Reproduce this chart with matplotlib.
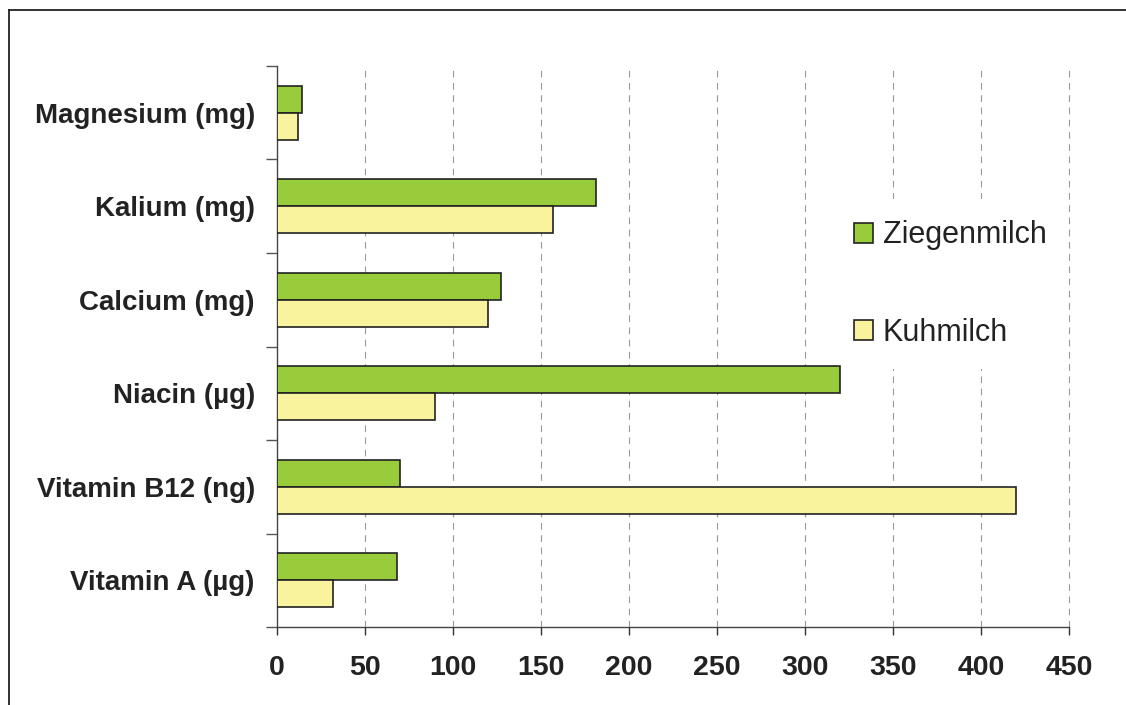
import matplotlib.pyplot as plt
from matplotlib.lines import Line2D
from matplotlib.ticker import FixedLocator
import numpy as np

# Naehrstoffgehalt je 100 g, von unten nach oben
categories = ["Vitamin A (µg)", "Vitamin B12 (ng)", "Niacin (µg)",
              "Calcium (mg)", "Kalium (mg)", "Magnesium (mg)"]
ziegenmilch = [68, 70, 320, 127, 181, 14]
kuhmilch = [32, 420, 90, 120, 157, 12]
x_ticks = [0, 50, 100, 150, 200, 250, 300, 350, 400, 450]

plt.rcParams['font.family'] = ['Liberation Sans', 'DejaVu Sans']

fig = plt.figure(figsize=(11.26, 7.05), dpi=100)
ax = fig.add_axes([277 / 1126, 1 - 627 / 705, 792 / 1126, 561 / 705])

y = np.arange(len(categories))
bar_h = 0.29
ax.barh(y + bar_h / 2, ziegenmilch, height=bar_h, color='#99CC3A',
        edgecolor='#222222', linewidth=1.2, label='Ziegenmilch', zorder=3)
ax.barh(y - bar_h / 2, kuhmilch, height=bar_h, color='#F9F39E',
        edgecolor='#222222', linewidth=1.2, label='Kuhmilch', zorder=3)

ax.set_xlim(0, 450)
ax.set_ylim(-0.5, len(categories) - 0.5)

# x axis
ax.set_xticks(x_ticks)
ax.tick_params(axis='x', direction='out', length=6, width=1, color='#333333',
               pad=14, labelsize=20.5)
for lbl in ax.get_xticklabels():
    lbl.set_fontweight('bold')
    lbl.set_color('#222222')

# y axis: labels at centres, ticks between categories
ax.set_yticks(y)
ax.set_yticklabels(categories, fontsize=20, fontweight='bold', color='#222222')
ax.yaxis.set_minor_locator(FixedLocator(np.arange(-0.5, len(categories), 1.0)))
ax.tick_params(axis='y', which='major', length=0, pad=16)
ax.tick_params(axis='y', which='minor', direction='out', length=8, width=1,
               color='#555555')

for side in ['top', 'right']:
    ax.spines[side].set_visible(False)
for side in ['left', 'bottom']:
    ax.spines[side].set_color('#444444')
    ax.spines[side].set_linewidth(1)

ax.xaxis.grid(True, color='#9a9a9a', linewidth=0.8, dashes=(6, 5), zorder=0)
ax.set_axisbelow(True)
gridlines = ax.get_xgridlines()
gridlines[0].set_visible(False)
for line in gridlines:
    line.set_clip_on(False)

leg = ax.legend(loc='center left', bbox_to_anchor=(833 / 1126, 1 - 284 / 705),
                bbox_transform=fig.transFigure, borderaxespad=0,
                fontsize=22, handlelength=0.62, handleheight=0.62,
                handletextpad=0.3, labelspacing=2.2, borderpad=0.7,
                frameon=True, fancybox=False)
leg.get_frame().set_edgecolor('none')
leg.get_frame().set_facecolor('white')
leg.get_frame().set_alpha(1)
leg.set_zorder(2.5)
for t in leg.get_texts():
    t.set_color('#222222')

# outer frame (left and top)
fig.add_artist(Line2D([9 / 1126, 9 / 1126], [0, 1 - 10 / 705],
                      color='#222222', linewidth=1.3))
fig.add_artist(Line2D([9 / 1126, 1], [1 - 10 / 705, 1 - 10 / 705],
                      color='#222222', linewidth=1.3))

fig.savefig('out.png', dpi=100)
